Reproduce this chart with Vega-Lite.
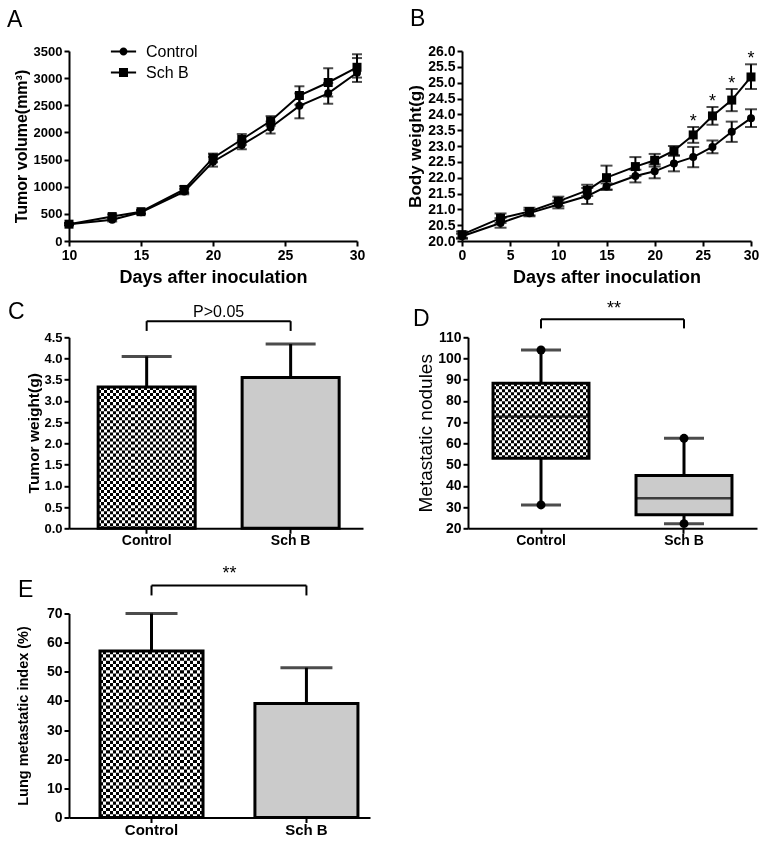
{
  "$schema": "https://vega.github.io/schema/vega-lite/v6.json",
  "background": "white",
  "padding": {"left": 7, "top": 8, "right": 5, "bottom": 5},
  "datasets": {
    "growth": [
      {"day": 10, "group": "Control", "vol": 310, "lower": 290, "upper": 330},
      {"day": 13, "group": "Control", "vol": 390, "lower": 360, "upper": 420},
      {"day": 15, "group": "Control", "vol": 530, "lower": 500, "upper": 560},
      {"day": 18, "group": "Control", "vol": 910, "lower": 860, "upper": 960},
      {"day": 20, "group": "Control", "vol": 1460, "lower": 1370, "upper": 1550},
      {"day": 22, "group": "Control", "vol": 1770, "lower": 1690, "upper": 1850},
      {"day": 24, "group": "Control", "vol": 2090, "lower": 1980, "upper": 2200},
      {"day": 26, "group": "Control", "vol": 2490, "lower": 2260, "upper": 2720},
      {"day": 28, "group": "Control", "vol": 2720, "lower": 2530, "upper": 2910},
      {"day": 30, "group": "Control", "vol": 3100, "lower": 2930, "upper": 3370},
      {"day": 10, "group": "Sch B", "vol": 310, "lower": 290, "upper": 330},
      {"day": 13, "group": "Sch B", "vol": 450, "lower": 410, "upper": 490},
      {"day": 15, "group": "Sch B", "vol": 540, "lower": 510, "upper": 570},
      {"day": 18, "group": "Sch B", "vol": 950, "lower": 890, "upper": 1010},
      {"day": 20, "group": "Sch B", "vol": 1530, "lower": 1450, "upper": 1610},
      {"day": 22, "group": "Sch B", "vol": 1870, "lower": 1770, "upper": 1970},
      {"day": 24, "group": "Sch B", "vol": 2210, "lower": 2120, "upper": 2300},
      {"day": 26, "group": "Sch B", "vol": 2680, "lower": 2510, "upper": 2850},
      {"day": 28, "group": "Sch B", "vol": 2920, "lower": 2660, "upper": 3180},
      {"day": 30, "group": "Sch B", "vol": 3200, "lower": 3010, "upper": 3440}
    ],
    "weight": [
      {"day": 0, "group": "Control", "wt": 20.15, "lower": 20.07, "upper": 20.23, "sig": ""},
      {"day": 4, "group": "Control", "wt": 20.57, "lower": 20.42, "upper": 20.72, "sig": ""},
      {"day": 7, "group": "Control", "wt": 20.88, "lower": 20.78, "upper": 20.98, "sig": ""},
      {"day": 10, "group": "Control", "wt": 21.15, "lower": 21.03, "upper": 21.27, "sig": ""},
      {"day": 13, "group": "Control", "wt": 21.42, "lower": 21.17, "upper": 21.67, "sig": ""},
      {"day": 15, "group": "Control", "wt": 21.72, "lower": 21.62, "upper": 21.82, "sig": ""},
      {"day": 18, "group": "Control", "wt": 22.05, "lower": 21.85, "upper": 22.25, "sig": ""},
      {"day": 20, "group": "Control", "wt": 22.2, "lower": 21.98, "upper": 22.42, "sig": ""},
      {"day": 22, "group": "Control", "wt": 22.45, "lower": 22.2, "upper": 22.7, "sig": ""},
      {"day": 24, "group": "Control", "wt": 22.65, "lower": 22.33, "upper": 22.97, "sig": ""},
      {"day": 26, "group": "Control", "wt": 22.97, "lower": 22.77, "upper": 23.17, "sig": ""},
      {"day": 28, "group": "Control", "wt": 23.45, "lower": 23.13, "upper": 23.77, "sig": ""},
      {"day": 30, "group": "Control", "wt": 23.88, "lower": 23.6, "upper": 24.16, "sig": ""},
      {"day": 0, "group": "Sch B", "wt": 20.2, "lower": 20.1, "upper": 20.3, "sig": ""},
      {"day": 4, "group": "Sch B", "wt": 20.72, "lower": 20.57, "upper": 20.87, "sig": ""},
      {"day": 7, "group": "Sch B", "wt": 20.93, "lower": 20.81, "upper": 21.05, "sig": ""},
      {"day": 10, "group": "Sch B", "wt": 21.25, "lower": 21.1, "upper": 21.4, "sig": ""},
      {"day": 13, "group": "Sch B", "wt": 21.6, "lower": 21.42, "upper": 21.78, "sig": ""},
      {"day": 15, "group": "Sch B", "wt": 22.0, "lower": 21.62, "upper": 22.38, "sig": ""},
      {"day": 18, "group": "Sch B", "wt": 22.35, "lower": 22.05, "upper": 22.65, "sig": ""},
      {"day": 20, "group": "Sch B", "wt": 22.55, "lower": 22.35, "upper": 22.75, "sig": ""},
      {"day": 22, "group": "Sch B", "wt": 22.85, "lower": 22.7, "upper": 23.0, "sig": ""},
      {"day": 24, "group": "Sch B", "wt": 23.35, "lower": 23.1, "upper": 23.6, "sig": "*"},
      {"day": 26, "group": "Sch B", "wt": 23.95, "lower": 23.67, "upper": 24.23, "sig": "*"},
      {"day": 28, "group": "Sch B", "wt": 24.45, "lower": 24.1, "upper": 24.8, "sig": "*"},
      {"day": 30, "group": "Sch B", "wt": 25.18, "lower": 24.8, "upper": 25.58, "sig": "*"}
    ],
    "tw": [
      {"group": "Control", "mean": 3.33, "upper": 4.05},
      {"group": "Sch B", "mean": 3.55, "upper": 4.34}
    ],
    "nod": [
      {"group": "Control", "min": 31, "q1": 53, "median": 72.7, "q3": 88.3, "max": 104},
      {"group": "Sch B", "min": 22.2, "q1": 26.4, "median": 34.2, "q3": 44.9, "max": 62.4}
    ],
    "lmi": [
      {"group": "Control", "mean": 57.1, "upper": 70},
      {"group": "Sch B", "mean": 39.1, "upper": 51.4}
    ]
  },
  "vconcat": [
    {
      "hconcat": [
        {
          "width": 288, "height": 190,
          "title": {"text": "A", "dx": -62, "offset": 13},
          "data": {"name": "growth"},
          "encoding": {
            "x": {"field": "day", "type": "quantitative", "scale": {"domain": [10, 30], "nice": false, "zero": false},
                  "axis": {"values": [10, 15, 20, 25, 30], "tickCount": 20, "title": "Days after inoculation", "titleFontSize": 18, "titlePadding": 6, "labelOverlap": false}}
          },
          "layer": [
            {"mark": {"type": "line", "color": "black", "strokeWidth": 2},
             "encoding": {"y": {"field": "vol", "type": "quantitative", "scale": {"domain": [0, 3500], "nice": false},
                                "axis": {"values": [0, 500, 1000, 1500, 2000, 2500, 3000, 3500], "tickCount": 20, "format": "d", "labelOverlap": false, "labelFontSize": 13, "titleFontSize": 16, "titlePadding": 4},
                                "title": "Tumor volume(mm³)"},
                          "detail": {"field": "group"}}},
            {"mark": {"type": "rule", "color": "black", "strokeWidth": 2},
             "encoding": {"y": {"field": "lower", "type": "quantitative", "title": "Tumor volume(mm³)"}, "y2": {"field": "upper"}}},
            {"mark": {"type": "tick", "orient": "horizontal", "color": "black", "size": 10, "thickness": 2},
             "encoding": {"y": {"field": "upper", "type": "quantitative", "title": "Tumor volume(mm³)"}}},
            {"mark": {"type": "tick", "orient": "horizontal", "color": "black", "size": 10, "thickness": 2},
             "encoding": {"y": {"field": "lower", "type": "quantitative", "title": "Tumor volume(mm³)"}}},
            {"transform": [{"filter": "datum.group === 'Control'"}],
             "mark": {"type": "point", "filled": true, "color": "black", "opacity": 1, "size": 64, "shape": "circle"},
             "encoding": {"y": {"field": "vol", "type": "quantitative", "title": "Tumor volume(mm³)"}}},
            {"transform": [{"filter": "datum.group === 'Sch B'"}],
             "mark": {"type": "point", "filled": true, "color": "black", "opacity": 1, "size": 81, "shape": "square"},
             "encoding": {"y": {"field": "vol", "type": "quantitative", "title": "Tumor volume(mm³)"}}},
            {"transform": [{"filter": "false"}],
             "mark": {"type": "point", "filled": true, "fill": "black", "stroke": "black", "strokeWidth": 2, "size": 441, "opacity": 1},
             "encoding": {"y": {"field": "vol", "type": "quantitative", "title": "Tumor volume(mm³)"},
                          "shape": {"field": "group", "type": "nominal",
                                    "scale": {"domain": ["Control", "Sch B"], "range": ["M-1.2,-0.1H1.2V0.1H-1.2ZM0.38,0A0.38,0.38,0,1,1,-0.38,0A0.38,0.38,0,1,1,0.38,0Z", "M-1.2,-0.1H1.2V0.1H-1.2ZM-0.43,-0.43H0.43V0.43H-0.43Z"]},
                                    "legend": {"orient": "none", "legendX": 44, "legendY": -10, "title": null, "padding": 0, "rowPadding": 2,
                                               "symbolSize": 441, "symbolStrokeWidth": 0, "symbolFillColor": "black", "symbolOpacity": 1,
                                               "labelFontSize": 16, "labelFontWeight": "normal", "labelColor": "black", "labelOffset": 12}}}}
          ]
        },
        {
          "width": 289, "height": 190,
          "title": {"text": "B", "dx": -52, "offset": 13},
          "data": {"name": "weight"},
          "encoding": {
            "x": {"field": "day", "type": "quantitative", "scale": {"domain": [0, 30], "nice": false},
                  "axis": {"values": [0, 5, 10, 15, 20, 25, 30], "tickCount": 20, "title": "Days after inoculation", "titleFontSize": 18, "titlePadding": 6, "labelOverlap": false}}
          },
          "layer": [
            {"mark": {"type": "line", "color": "black", "strokeWidth": 2},
             "encoding": {"y": {"field": "wt", "type": "quantitative", "scale": {"domain": [20, 26], "nice": false, "zero": false},
                                "axis": {"values": [20, 20.5, 21, 21.5, 22, 22.5, 23, 23.5, 24, 24.5, 25, 25.5, 26], "tickCount": 20, "format": ".1f", "labelOverlap": false, "labelFontSize": 14, "titleFontSize": 17, "titlePadding": 3},
                                "title": "Body weight(g)"},
                          "detail": {"field": "group"}}},
            {"mark": {"type": "rule", "color": "black", "strokeWidth": 2},
             "encoding": {"y": {"field": "lower", "type": "quantitative", "title": "Body weight(g)"}, "y2": {"field": "upper"}}},
            {"mark": {"type": "tick", "orient": "horizontal", "color": "black", "size": 12, "thickness": 2},
             "encoding": {"y": {"field": "upper", "type": "quantitative", "title": "Body weight(g)"}}},
            {"mark": {"type": "tick", "orient": "horizontal", "color": "black", "size": 12, "thickness": 2},
             "encoding": {"y": {"field": "lower", "type": "quantitative", "title": "Body weight(g)"}}},
            {"transform": [{"filter": "datum.group === 'Control'"}],
             "mark": {"type": "point", "filled": true, "color": "black", "opacity": 1, "size": 64, "shape": "circle"},
             "encoding": {"y": {"field": "wt", "type": "quantitative", "title": "Body weight(g)"}}},
            {"transform": [{"filter": "datum.group === 'Sch B'"}],
             "mark": {"type": "point", "filled": true, "color": "black", "opacity": 1, "size": 81, "shape": "square"},
             "encoding": {"y": {"field": "wt", "type": "quantitative", "title": "Body weight(g)"}}},
            {"mark": {"type": "text", "fontSize": 18, "color": "black", "baseline": "middle", "dy": -5},
             "encoding": {"y": {"field": "upper", "type": "quantitative", "title": "Body weight(g)"}, "text": {"field": "sig"}}},
            {"transform": [{"filter": "false"}],
             "mark": {"type": "point", "filled": true, "fill": "black", "stroke": "black", "strokeWidth": 2, "size": 441, "opacity": 1},
             "encoding": {"y": {"field": "wt", "type": "quantitative", "title": "Body weight(g)"},
                          "shape": {"field": "group", "type": "nominal",
                                    "scale": {"domain": ["Control", "Sch B"], "range": ["M-1.2,-0.1H1.2V0.1H-1.2ZM0.38,0A0.38,0.38,0,1,1,-0.38,0A0.38,0.38,0,1,1,0.38,0Z", "M-1.2,-0.1H1.2V0.1H-1.2ZM-0.43,-0.43H0.43V0.43H-0.43Z"]},
                                    "legend": {"orient": "none", "legendX": 47, "legendY": -9, "title": null, "padding": 0, "rowPadding": 2,
                                               "symbolSize": 441, "symbolStrokeWidth": 0, "symbolFillColor": "black", "symbolOpacity": 1,
                                               "labelFontSize": 16, "labelFontWeight": "normal", "labelColor": "black", "labelOffset": 12}}}}
          ]
        }
      ],
      "spacing": 105,
      "bounds": "flush"
    },
    {
      "vconcat": [
        {
          "hconcat": [
            {
              "width": 294, "height": 191,
              "title": {"text": "C", "dx": -61, "offset": -20},
              "data": {"name": "tw"},
              "encoding": {
                "x": {"field": "group", "type": "nominal", "sort": null,
                      "scale": {"domain": ["Control", "Sch B"], "paddingInner": 0.326, "paddingOuter": 0.184, "align": 0.55},
                      "axis": {"title": null, "labelAngle": 0, "labelFontSize": 14, "labelPadding": 0}}
              },
              "layer": [
                {"transform": [{"filter": "datum.group === 'Control'"}],
                 "mark": {"type": "bar", "fill": {"gradient": "linear", "x1": 0, "y1": 0, "x2": 1, "y2": 0, "stops": [
                   {"offset": 0, "color": "#000"},
                   {"offset": 0.03125, "color": "#000"}, {"offset": 0.03125, "color": "#fff"},
                   {"offset": 0.0625, "color": "#fff"}, {"offset": 0.0625, "color": "#000"},
                   {"offset": 0.09375, "color": "#000"}, {"offset": 0.09375, "color": "#fff"},
                   {"offset": 0.125, "color": "#fff"}, {"offset": 0.125, "color": "#000"},
                   {"offset": 0.15625, "color": "#000"}, {"offset": 0.15625, "color": "#fff"},
                   {"offset": 0.1875, "color": "#fff"}, {"offset": 0.1875, "color": "#000"},
                   {"offset": 0.21875, "color": "#000"}, {"offset": 0.21875, "color": "#fff"},
                   {"offset": 0.25, "color": "#fff"}, {"offset": 0.25, "color": "#000"},
                   {"offset": 0.28125, "color": "#000"}, {"offset": 0.28125, "color": "#fff"},
                   {"offset": 0.3125, "color": "#fff"}, {"offset": 0.3125, "color": "#000"},
                   {"offset": 0.34375, "color": "#000"}, {"offset": 0.34375, "color": "#fff"},
                   {"offset": 0.375, "color": "#fff"}, {"offset": 0.375, "color": "#000"},
                   {"offset": 0.40625, "color": "#000"}, {"offset": 0.40625, "color": "#fff"},
                   {"offset": 0.4375, "color": "#fff"}, {"offset": 0.4375, "color": "#000"},
                   {"offset": 0.46875, "color": "#000"}, {"offset": 0.46875, "color": "#fff"},
                   {"offset": 0.5, "color": "#fff"}, {"offset": 0.5, "color": "#000"},
                   {"offset": 0.53125, "color": "#000"}, {"offset": 0.53125, "color": "#fff"},
                   {"offset": 0.5625, "color": "#fff"}, {"offset": 0.5625, "color": "#000"},
                   {"offset": 0.59375, "color": "#000"}, {"offset": 0.59375, "color": "#fff"},
                   {"offset": 0.625, "color": "#fff"}, {"offset": 0.625, "color": "#000"},
                   {"offset": 0.65625, "color": "#000"}, {"offset": 0.65625, "color": "#fff"},
                   {"offset": 0.6875, "color": "#fff"}, {"offset": 0.6875, "color": "#000"},
                   {"offset": 0.71875, "color": "#000"}, {"offset": 0.71875, "color": "#fff"},
                   {"offset": 0.75, "color": "#fff"}, {"offset": 0.75, "color": "#000"},
                   {"offset": 0.78125, "color": "#000"}, {"offset": 0.78125, "color": "#fff"},
                   {"offset": 0.8125, "color": "#fff"}, {"offset": 0.8125, "color": "#000"},
                   {"offset": 0.84375, "color": "#000"}, {"offset": 0.84375, "color": "#fff"},
                   {"offset": 0.875, "color": "#fff"}, {"offset": 0.875, "color": "#000"},
                   {"offset": 0.90625, "color": "#000"}, {"offset": 0.90625, "color": "#fff"},
                   {"offset": 0.9375, "color": "#fff"}, {"offset": 0.9375, "color": "#000"},
                   {"offset": 0.96875, "color": "#000"}, {"offset": 0.96875, "color": "#fff"},
                   {"offset": 1, "color": "#fff"}]}},
                 "encoding": {"y": {"field": "mean", "type": "quantitative", "scale": {"domain": [0, 4.5], "nice": false},
                                    "axis": {"values": [0, 0.5, 1, 1.5, 2, 2.5, 3, 3.5, 4, 4.5], "tickCount": 20, "format": ".1f", "labelOverlap": false, "labelFontSize": 13, "titleFontSize": 15.5, "titlePadding": 2},
                                    "title": "Tumor weight(g)"}}},
                {"transform": [{"filter": "datum.group === 'Sch B'"}],
                 "mark": {"type": "bar", "fill": "#cbcbcb"},
                 "encoding": {"y": {"field": "mean", "type": "quantitative", "title": "Tumor weight(g)"}}},
                {"transform": [{"filter": "datum.group === 'Control'"}],
                 "mark": {"type": "rule", "stroke": "white", "strokeWidth": 97, "strokeDash": [3.03, 3.03], "strokeCap": "butt", "blend": "difference"},
                 "encoding": {"y": {"field": "mean", "type": "quantitative", "title": "Tumor weight(g)"}, "y2": {"datum": 0}}},
                {"mark": {"type": "bar", "fill": "transparent", "stroke": "black", "strokeWidth": 3},
                 "encoding": {"y": {"field": "mean", "type": "quantitative", "title": "Tumor weight(g)"}}},
                {"mark": {"type": "rule", "color": "black", "strokeWidth": 3},
                 "encoding": {"y": {"field": "mean", "type": "quantitative", "title": "Tumor weight(g)"}, "y2": {"field": "upper"}}},
                {"mark": {"type": "tick", "orient": "horizontal", "color": "black", "size": 50, "thickness": 3},
                 "encoding": {"y": {"field": "upper", "type": "quantitative", "title": "Tumor weight(g)"}}},
                {"mark": {"type": "rule", "color": "black", "strokeWidth": 2},
                 "encoding": {"y": {"datum": 4.88, "type": "quantitative"}, "y2": {"datum": 4.65}}},
                {"data": {"values": [{"label": "P>0.05"}]},
                 "layer": [
                   {"mark": {"type": "rule", "color": "black", "strokeWidth": 2},
                    "encoding": {"x": {"datum": "Control", "type": "nominal"}, "x2": {"datum": "Sch B"}, "y": {"datum": 4.88, "type": "quantitative"}}},
                   {"mark": {"type": "text", "fontSize": 16, "color": "black", "baseline": "middle", "dx": 72},
                    "encoding": {"x": {"datum": "Control", "type": "nominal"}, "y": {"datum": 5.1, "type": "quantitative"}, "text": {"field": "label"}}}
                 ]}
              ]
            },
            {
              "width": 289, "height": 191,
              "title": {"text": "D", "dx": -55, "offset": -31},
              "data": {"name": "nod"},
              "encoding": {
                "x": {"field": "group", "type": "nominal", "sort": null,
                      "scale": {"domain": ["Control", "Sch B"], "paddingInner": 0.329, "paddingOuter": 0.175, "align": 0.5},
                      "axis": {"title": null, "labelAngle": 0, "labelFontSize": 14, "labelPadding": 0}}
              },
              "layer": [
                {"mark": {"type": "rule", "color": "black", "strokeWidth": 3},
                 "encoding": {"y": {"field": "min", "type": "quantitative", "scale": {"domain": [20, 110], "nice": false, "zero": false},
                                    "axis": {"values": [20, 30, 40, 50, 60, 70, 80, 90, 100, 110], "tickCount": 20, "labelOverlap": false, "labelFontSize": 14, "titleFontSize": 19, "titleFontWeight": "normal", "titlePadding": 2},
                                    "title": "Metastatic nodules"},
                              "y2": {"field": "max"}}},
                {"transform": [{"filter": "datum.group === 'Control'"}],
                 "mark": {"type": "bar", "fill": {"gradient": "linear", "x1": 0, "y1": 0, "x2": 1, "y2": 0, "stops": [
                   {"offset": 0, "color": "#000"},
                   {"offset": 0.03125, "color": "#000"}, {"offset": 0.03125, "color": "#fff"},
                   {"offset": 0.0625, "color": "#fff"}, {"offset": 0.0625, "color": "#000"},
                   {"offset": 0.09375, "color": "#000"}, {"offset": 0.09375, "color": "#fff"},
                   {"offset": 0.125, "color": "#fff"}, {"offset": 0.125, "color": "#000"},
                   {"offset": 0.15625, "color": "#000"}, {"offset": 0.15625, "color": "#fff"},
                   {"offset": 0.1875, "color": "#fff"}, {"offset": 0.1875, "color": "#000"},
                   {"offset": 0.21875, "color": "#000"}, {"offset": 0.21875, "color": "#fff"},
                   {"offset": 0.25, "color": "#fff"}, {"offset": 0.25, "color": "#000"},
                   {"offset": 0.28125, "color": "#000"}, {"offset": 0.28125, "color": "#fff"},
                   {"offset": 0.3125, "color": "#fff"}, {"offset": 0.3125, "color": "#000"},
                   {"offset": 0.34375, "color": "#000"}, {"offset": 0.34375, "color": "#fff"},
                   {"offset": 0.375, "color": "#fff"}, {"offset": 0.375, "color": "#000"},
                   {"offset": 0.40625, "color": "#000"}, {"offset": 0.40625, "color": "#fff"},
                   {"offset": 0.4375, "color": "#fff"}, {"offset": 0.4375, "color": "#000"},
                   {"offset": 0.46875, "color": "#000"}, {"offset": 0.46875, "color": "#fff"},
                   {"offset": 0.5, "color": "#fff"}, {"offset": 0.5, "color": "#000"},
                   {"offset": 0.53125, "color": "#000"}, {"offset": 0.53125, "color": "#fff"},
                   {"offset": 0.5625, "color": "#fff"}, {"offset": 0.5625, "color": "#000"},
                   {"offset": 0.59375, "color": "#000"}, {"offset": 0.59375, "color": "#fff"},
                   {"offset": 0.625, "color": "#fff"}, {"offset": 0.625, "color": "#000"},
                   {"offset": 0.65625, "color": "#000"}, {"offset": 0.65625, "color": "#fff"},
                   {"offset": 0.6875, "color": "#fff"}, {"offset": 0.6875, "color": "#000"},
                   {"offset": 0.71875, "color": "#000"}, {"offset": 0.71875, "color": "#fff"},
                   {"offset": 0.75, "color": "#fff"}, {"offset": 0.75, "color": "#000"},
                   {"offset": 0.78125, "color": "#000"}, {"offset": 0.78125, "color": "#fff"},
                   {"offset": 0.8125, "color": "#fff"}, {"offset": 0.8125, "color": "#000"},
                   {"offset": 0.84375, "color": "#000"}, {"offset": 0.84375, "color": "#fff"},
                   {"offset": 0.875, "color": "#fff"}, {"offset": 0.875, "color": "#000"},
                   {"offset": 0.90625, "color": "#000"}, {"offset": 0.90625, "color": "#fff"},
                   {"offset": 0.9375, "color": "#fff"}, {"offset": 0.9375, "color": "#000"},
                   {"offset": 0.96875, "color": "#000"}, {"offset": 0.96875, "color": "#fff"},
                   {"offset": 1, "color": "#fff"}]}},
                 "encoding": {"y": {"field": "q1", "type": "quantitative", "title": "Metastatic nodules"}, "y2": {"field": "q3"}}},
                {"transform": [{"filter": "datum.group === 'Sch B'"}],
                 "mark": {"type": "bar", "fill": "#cbcbcb"},
                 "encoding": {"y": {"field": "q1", "type": "quantitative", "title": "Metastatic nodules"}, "y2": {"field": "q3"}}},
                {"transform": [{"filter": "datum.group === 'Control'"}],
                 "mark": {"type": "rule", "stroke": "white", "strokeWidth": 96, "strokeDash": [3, 3], "strokeCap": "butt", "blend": "difference"},
                 "encoding": {"y": {"field": "q1", "type": "quantitative", "title": "Metastatic nodules"}, "y2": {"field": "q3"}}},
                {"mark": {"type": "bar", "fill": "transparent", "stroke": "black", "strokeWidth": 3},
                 "encoding": {"y": {"field": "q1", "type": "quantitative", "title": "Metastatic nodules"}, "y2": {"field": "q3"}}},
                {"mark": {"type": "tick", "orient": "horizontal", "color": "black", "size": 96, "thickness": 2.5},
                 "encoding": {"y": {"field": "median", "type": "quantitative", "title": "Metastatic nodules"}}},
                {"mark": {"type": "tick", "orient": "horizontal", "color": "black", "size": 40, "thickness": 3},
                 "encoding": {"y": {"field": "max", "type": "quantitative", "title": "Metastatic nodules"}}},
                {"mark": {"type": "tick", "orient": "horizontal", "color": "black", "size": 40, "thickness": 3},
                 "encoding": {"y": {"field": "min", "type": "quantitative", "title": "Metastatic nodules"}}},
                {"mark": {"type": "point", "filled": true, "color": "black", "opacity": 1, "size": 80, "shape": "circle"},
                 "encoding": {"y": {"field": "max", "type": "quantitative", "title": "Metastatic nodules"}}},
                {"mark": {"type": "point", "filled": true, "color": "black", "opacity": 1, "size": 80, "shape": "circle"},
                 "encoding": {"y": {"field": "min", "type": "quantitative", "title": "Metastatic nodules"}}},
                {"mark": {"type": "rule", "color": "black", "strokeWidth": 2},
                 "encoding": {"y": {"datum": 118.5, "type": "quantitative"}, "y2": {"datum": 114.2}}},
                {"data": {"values": [{"label": "**"}]},
                 "layer": [
                   {"mark": {"type": "rule", "color": "black", "strokeWidth": 2},
                    "encoding": {"x": {"datum": "Control", "type": "nominal"}, "x2": {"datum": "Sch B"}, "y": {"datum": 118.5, "type": "quantitative"}}},
                   {"mark": {"type": "text", "fontSize": 18, "color": "black", "baseline": "middle", "dx": 73},
                    "encoding": {"x": {"datum": "Control", "type": "nominal"}, "y": {"datum": 123.5, "type": "quantitative"}, "text": {"field": "label"}}}
                 ]}
              ]
            }
          ],
          "spacing": 105,
          "bounds": "flush"
        },
        {
          "width": 301, "height": 204,
          "title": {"text": "E", "dx": -51, "offset": -36.6},
          "data": {"name": "lmi"},
          "encoding": {
            "x": {"field": "group", "type": "nominal", "sort": null,
                  "scale": {"domain": ["Control", "Sch B"], "paddingInner": 0.335, "paddingOuter": 0.139, "align": 0.72},
                  "axis": {"title": null, "labelAngle": 0, "labelFontSize": 15, "labelPadding": 0}}
          },
          "layer": [
            {"transform": [{"filter": "datum.group === 'Control'"}],
             "mark": {"type": "bar", "fill": {"gradient": "linear", "x1": 0, "y1": 0, "x2": 1, "y2": 0, "stops": [
               {"offset": 0, "color": "#000"},
               {"offset": 0.03125, "color": "#000"}, {"offset": 0.03125, "color": "#fff"},
               {"offset": 0.0625, "color": "#fff"}, {"offset": 0.0625, "color": "#000"},
               {"offset": 0.09375, "color": "#000"}, {"offset": 0.09375, "color": "#fff"},
               {"offset": 0.125, "color": "#fff"}, {"offset": 0.125, "color": "#000"},
               {"offset": 0.15625, "color": "#000"}, {"offset": 0.15625, "color": "#fff"},
               {"offset": 0.1875, "color": "#fff"}, {"offset": 0.1875, "color": "#000"},
               {"offset": 0.21875, "color": "#000"}, {"offset": 0.21875, "color": "#fff"},
               {"offset": 0.25, "color": "#fff"}, {"offset": 0.25, "color": "#000"},
               {"offset": 0.28125, "color": "#000"}, {"offset": 0.28125, "color": "#fff"},
               {"offset": 0.3125, "color": "#fff"}, {"offset": 0.3125, "color": "#000"},
               {"offset": 0.34375, "color": "#000"}, {"offset": 0.34375, "color": "#fff"},
               {"offset": 0.375, "color": "#fff"}, {"offset": 0.375, "color": "#000"},
               {"offset": 0.40625, "color": "#000"}, {"offset": 0.40625, "color": "#fff"},
               {"offset": 0.4375, "color": "#fff"}, {"offset": 0.4375, "color": "#000"},
               {"offset": 0.46875, "color": "#000"}, {"offset": 0.46875, "color": "#fff"},
               {"offset": 0.5, "color": "#fff"}, {"offset": 0.5, "color": "#000"},
               {"offset": 0.53125, "color": "#000"}, {"offset": 0.53125, "color": "#fff"},
               {"offset": 0.5625, "color": "#fff"}, {"offset": 0.5625, "color": "#000"},
               {"offset": 0.59375, "color": "#000"}, {"offset": 0.59375, "color": "#fff"},
               {"offset": 0.625, "color": "#fff"}, {"offset": 0.625, "color": "#000"},
               {"offset": 0.65625, "color": "#000"}, {"offset": 0.65625, "color": "#fff"},
               {"offset": 0.6875, "color": "#fff"}, {"offset": 0.6875, "color": "#000"},
               {"offset": 0.71875, "color": "#000"}, {"offset": 0.71875, "color": "#fff"},
               {"offset": 0.75, "color": "#fff"}, {"offset": 0.75, "color": "#000"},
               {"offset": 0.78125, "color": "#000"}, {"offset": 0.78125, "color": "#fff"},
               {"offset": 0.8125, "color": "#fff"}, {"offset": 0.8125, "color": "#000"},
               {"offset": 0.84375, "color": "#000"}, {"offset": 0.84375, "color": "#fff"},
               {"offset": 0.875, "color": "#fff"}, {"offset": 0.875, "color": "#000"},
               {"offset": 0.90625, "color": "#000"}, {"offset": 0.90625, "color": "#fff"},
               {"offset": 0.9375, "color": "#fff"}, {"offset": 0.9375, "color": "#000"},
               {"offset": 0.96875, "color": "#000"}, {"offset": 0.96875, "color": "#fff"},
               {"offset": 1, "color": "#fff"}]}},
             "encoding": {"y": {"field": "mean", "type": "quantitative", "scale": {"domain": [0, 70], "nice": false},
                                "axis": {"values": [0, 10, 20, 30, 40, 50, 60, 70], "tickCount": 20, "labelOverlap": false, "labelFontSize": 14, "titleFontSize": 14.5, "titlePadding": 16},
                                "title": "Lung metastatic index (%)"}}},
            {"transform": [{"filter": "datum.group === 'Sch B'"}],
             "mark": {"type": "bar", "fill": "#cbcbcb"},
             "encoding": {"y": {"field": "mean", "type": "quantitative", "title": "Lung metastatic index (%)"}}},
            {"transform": [{"filter": "datum.group === 'Control'"}],
             "mark": {"type": "rule", "stroke": "white", "strokeWidth": 103, "strokeDash": [3.2, 3.2], "strokeCap": "butt", "blend": "difference"},
             "encoding": {"y": {"field": "mean", "type": "quantitative", "title": "Lung metastatic index (%)"}, "y2": {"datum": 0}}},
            {"mark": {"type": "bar", "fill": "transparent", "stroke": "black", "strokeWidth": 3},
             "encoding": {"y": {"field": "mean", "type": "quantitative", "title": "Lung metastatic index (%)"}}},
            {"mark": {"type": "rule", "color": "black", "strokeWidth": 3},
             "encoding": {"y": {"field": "mean", "type": "quantitative", "title": "Lung metastatic index (%)"}, "y2": {"field": "upper"}}},
            {"mark": {"type": "tick", "orient": "horizontal", "color": "black", "size": 52, "thickness": 3},
             "encoding": {"y": {"field": "upper", "type": "quantitative", "title": "Lung metastatic index (%)"}}},
            {"mark": {"type": "rule", "color": "black", "strokeWidth": 2},
             "encoding": {"y": {"datum": 79.6, "type": "quantitative"}, "y2": {"datum": 76.2}}},
            {"data": {"values": [{"label": "**"}]},
             "layer": [
               {"mark": {"type": "rule", "color": "black", "strokeWidth": 2},
                "encoding": {"x": {"datum": "Control", "type": "nominal"}, "x2": {"datum": "Sch B"}, "y": {"datum": 79.6, "type": "quantitative"}}},
               {"mark": {"type": "text", "fontSize": 18, "color": "black", "baseline": "middle", "dx": 78},
                "encoding": {"x": {"datum": "Control", "type": "nominal"}, "y": {"datum": 83.5, "type": "quantitative"}, "text": {"field": "label"}}}
             ]}
          ]
        }
      ],
      "spacing": -12.8,
      "bounds": "full"
    }
  ],
  "spacing": 13.3,
  "bounds": "full",
  "config": {
    "font": "Liberation Sans",
    "view": {"stroke": null},
    "axis": {"domainColor": "black", "domainWidth": 2, "tickColor": "black", "tickWidth": 2, "tickSize": 5,
             "labelColor": "black", "labelFont": "Liberation Sans", "labelFontWeight": "bold", "labelFontSize": 14,
             "labelPadding": 2, "labelFlush": false, "labelOverlap": false, "labelBound": false,
             "titleColor": "black", "titleFont": "Liberation Sans", "titleFontWeight": "bold", "grid": false},
    "legend": {"labelFont": "Liberation Sans"},
    "title": {"font": "Liberation Sans", "fontSize": 23, "fontWeight": "normal", "anchor": "start", "frame": "group", "color": "black"},
    "text": {"font": "Liberation Sans"}
  }
}
